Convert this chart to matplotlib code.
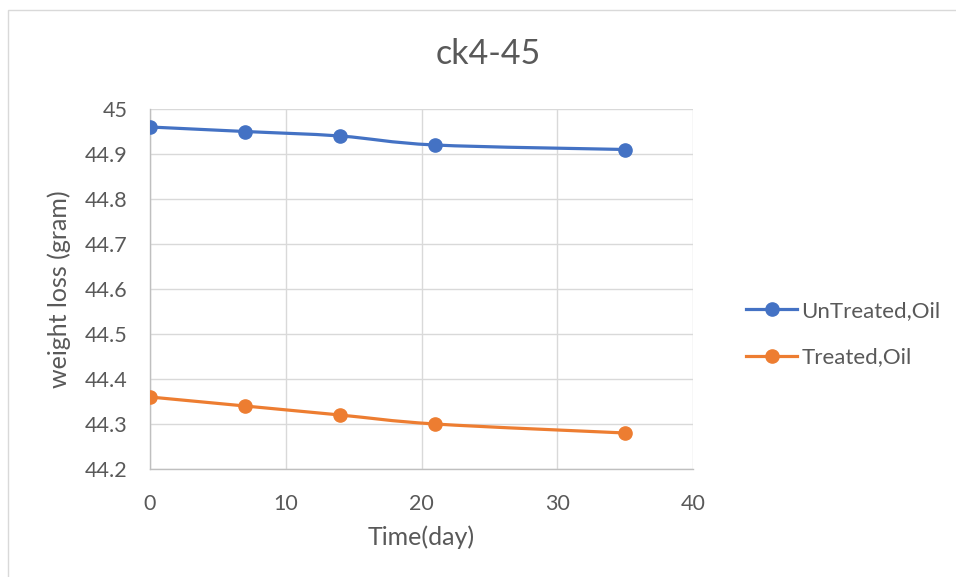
import matplotlib
matplotlib.use("Agg")
import matplotlib.pyplot as plt
from matplotlib.path import Path
from matplotlib.patches import PathPatch, Rectangle
from matplotlib.lines import Line2D
import numpy as np

plt.rcParams['font.family'] = ['Lato', 'DejaVu Sans']

# Data
days = [0, 7, 14, 21, 35]
untreated = [44.96, 44.95, 44.94, 44.92, 44.91]
treated = [44.36, 44.34, 44.32, 44.30, 44.28]

BLUE = '#4472c4'
ORANGE = '#ed7d31'
TEXT = '#595959'


def smooth_path(x, y):
    # Catmull-Rom style bezier through the points (like Excel "smoothed line")
    pts = np.column_stack([x, y]).astype(float)
    verts = [pts[0]]
    codes = [Path.MOVETO]
    n = len(pts)
    for i in range(n - 1):
        p0 = pts[i - 1] if i > 0 else pts[i]
        p1 = pts[i]
        p2 = pts[i + 1]
        p3 = pts[i + 2] if i + 2 < n else pts[i + 1]
        c1 = p1 + (p2 - p0) / 6
        c2 = p2 - (p3 - p1) / 6
        verts += [c1, c2, p2]
        codes += [Path.CURVE4] * 3
    return Path(verts, codes)


fig = plt.figure(figsize=(9.56, 5.77), dpi=100)
fig.patches.append(Rectangle((8 / 956, -0.1), 1.2, 1.1 - 10 / 577,
                             transform=fig.transFigure, fill=False,
                             edgecolor='#d9d9d9', linewidth=1))

ax = fig.add_axes([150 / 956, 1 - 469 / 577, 543 / 956, 360 / 577])

for vals, col in [(untreated, BLUE), (treated, ORANGE)]:
    ax.add_patch(PathPatch(smooth_path(days, vals), fill=False,
                           edgecolor=col, linewidth=2.3, zorder=3,
                           capstyle='round'))
    ax.plot(days, vals, linestyle='none', marker='o', markersize=9.5,
            color=col, zorder=4)

ax.set_xlim(0, 40)
ax.set_ylim(44.2, 45)
ax.set_xticks([0, 10, 20, 30, 40])
ax.set_yticks(np.round(np.arange(44.2, 45.01, 0.1), 1))
ax.set_yticklabels(['44.2', '44.3', '44.4', '44.5', '44.6', '44.7', '44.8', '44.9', '45'])
ax.grid(True, color='#d9d9d9', linewidth=1)
ax.set_axisbelow(True)
for s in ['top', 'right']:
    ax.spines[s].set_visible(False)
for s in ['left', 'bottom']:
    ax.spines[s].set_color('#bfbfbf')
    ax.spines[s].set_linewidth(1)
ax.tick_params(axis='y', length=0, labelsize=15.5, colors=TEXT, pad=16)
ax.tick_params(axis='x', length=0, labelsize=15.5, colors=TEXT, pad=18)

fig.text(488 / 956, 1 - 54 / 577, 'ck4-45', fontsize=24.5, color=TEXT,
         ha='center', va='center')
ax.set_xlabel('Time(day)', fontsize=18, color=TEXT, labelpad=8)
ax.set_ylabel('weight loss (gram)', fontsize=18, color=TEXT, labelpad=10)

handles = [Line2D([], [], color=BLUE, linewidth=2.3, marker='o', markersize=9.5),
           Line2D([], [], color=ORANGE, linewidth=2.3, marker='o', markersize=9.5)]
fig.legend(handles, ['UnTreated,Oil', 'Treated,Oil'], loc='center left',
           bbox_to_anchor=(726 / 956, 1 - 334 / 577), frameon=False,
           fontsize=16, labelcolor=TEXT, handlelength=2.3, handletextpad=0.2,
           labelspacing=1.2)

fig.savefig('out.png', dpi=100)
